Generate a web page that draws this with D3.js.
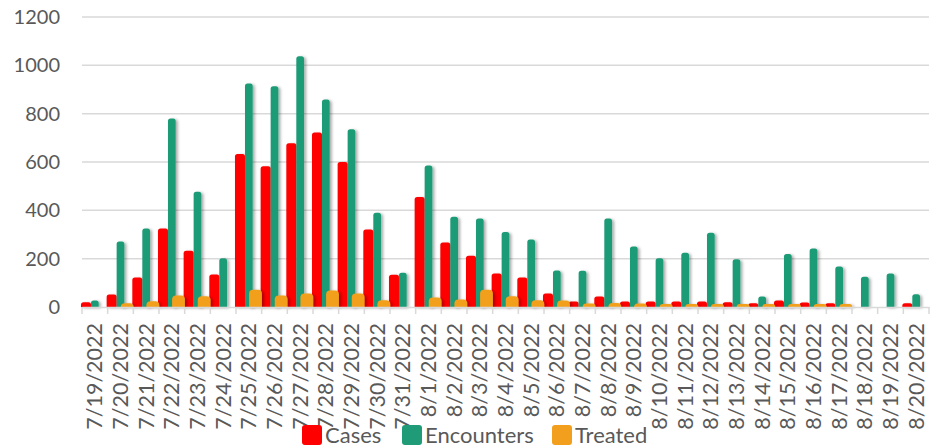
<!DOCTYPE html>
<html>
<head>
<meta charset="utf-8">
<script src="https://cdn.jsdelivr.net/npm/d3@7"></script>
<style>
  body { margin: 0; background: #fff; }
  text { font-family: Lato, "Open Sans", sans-serif; fill: #595959; }
</style>
</head>
<body>
<svg id="chart" width="937" height="448"></svg>
<script>
// categories and series values
const dates = ["7/19/2022", "7/20/2022", "7/21/2022", "7/22/2022", "7/23/2022", "7/24/2022",
  "7/25/2022", "7/26/2022", "7/27/2022", "7/28/2022", "7/29/2022", "7/30/2022", "7/31/2022",
  "8/1/2022", "8/2/2022", "8/3/2022", "8/4/2022", "8/5/2022", "8/6/2022", "8/7/2022",
  "8/8/2022", "8/9/2022", "8/10/2022", "8/11/2022", "8/12/2022", "8/13/2022", "8/14/2022",
  "8/15/2022", "8/16/2022", "8/17/2022", "8/18/2022", "8/19/2022", "8/20/2022"];
const cases = [20, 52, 122, 325, 233, 135, 633, 582, 678, 722, 600, 321, 133,
  455, 267, 212, 139, 122, 56, 23, 43, 23, 23, 23, 23, 20, 16, 27, 19, 16, 0, 0, 16];
const encounters = [27, 271, 325, 780, 477, 202, 925, 913, 1038, 859, 736, 390, 142,
  586, 373, 366, 310, 279, 151, 150, 366, 250, 202, 224, 307, 198, 43, 219, 242, 168, 125, 139, 53];
const treated = [0, 16, 24, 48, 45, 0, 71, 48, 56, 68, 56, 28, 0,
  39, 31, 71, 45, 28, 27, 14, 17, 15, 12, 12, 12, 12, 12, 12, 12, 12, 0, 0, 0];
const yTicks = [0, 200, 400, 600, 800, 1000, 1200];
const seriesNames = ["Cases", "Encounters", "Treated"];
const seriesColors = ["#ff0000", "#1f9b77", "#f29f1d"];

const svg = d3.select("#chart");
const margin = { top: 17, right: 8, bottom: 141, left: 82 };
const width = 937 - margin.left - margin.right;
const height = 448 - margin.top - margin.bottom;

// soft drop shadow like the original
const defs = svg.append("defs");
const f = defs.append("filter").attr("id", "shadow")
  .attr("x", "-50%").attr("y", "-10%").attr("width", "200%").attr("height", "130%");
f.append("feDropShadow").attr("dx", 2).attr("dy", 1).attr("stdDeviation", 1.8)
  .attr("flood-color", "#000").attr("flood-opacity", 0.35);

const g = svg.append("g").attr("transform", "translate(" + margin.left + "," + margin.top + ")");

const x = d3.scaleBand().domain(dates).range([0, width]).padding(0);
const y = d3.scaleLinear().domain([0, 1200]).range([height, 0]);
const bw = x.bandwidth();

// gridlines
g.append("g").selectAll("line")
  .data(yTicks.filter(d => d > 0))
  .join("line")
  .attr("x1", 0).attr("x2", width)
  .attr("y1", d => y(d)).attr("y2", d => y(d))
  .attr("stroke", "#d9d9d9").attr("stroke-width", 1.5);

// y axis labels
const yAxis = g.append("g")
  .call(d3.axisLeft(y).tickValues(yTicks).tickFormat(d3.format("d")).tickSize(0).tickPadding(22));
yAxis.select(".domain").remove();
yAxis.selectAll("text").style("font-size", "20px").attr("fill", "#595959")
  .style("font-family", "Lato, sans-serif");

// bar placement within each date band (fraction of band)
const layout = [
  { off: -0.04, w: 0.39, values: cases },
  { off: 0.35, w: 0.30, values: encounters },
  { off: 0.51, w: 0.50, values: treated }
];

function topRounded(x0, y0, w, h, r) {
  r = Math.min(r, h, w / 2);
  return "M" + x0 + "," + (y0 + h) +
    "V" + (y0 + r) +
    "Q" + x0 + "," + y0 + " " + (x0 + r) + "," + y0 +
    "H" + (x0 + w - r) +
    "Q" + (x0 + w) + "," + y0 + " " + (x0 + w) + "," + (y0 + r) +
    "V" + (y0 + h) + "Z";
}

layout.forEach((s, i) => {
  g.append("g").attr("filter", "url(#shadow)")
    .selectAll("path")
    .data(dates.map((d, j) => ({ date: d, value: s.values[j] })).filter(d => d.value > 0))
    .join("path")
    .attr("fill", seriesColors[i])
    .attr("d", d => {
      const x0 = x(d.date) + bw * s.off;
      const y0 = y(d.value);
      return topRounded(x0, y0, bw * s.w, height - y0, i === 2 ? 4 : 2.5);
    });
});

// x axis
const xAxis = g.append("g").attr("transform", "translate(0," + height + ")")
  .call(d3.axisBottom(x).tickSize(0).tickFormat(""));
xAxis.select(".domain").attr("stroke", "#d9d9d9").attr("stroke-width", 1.5);
g.append("g").selectAll("line")
  .data(dates.concat(["end"]))
  .join("line")
  .attr("x1", (d, i) => i * bw).attr("x2", (d, i) => i * bw)
  .attr("y1", height).attr("y2", height + 7)
  .attr("stroke", "#d9d9d9").attr("stroke-width", 1.5);

g.append("g").selectAll("text")
  .data(dates)
  .join("text")
  .attr("transform", d => "translate(" + (x(d) + bw / 2) + "," + (height + 16) + ") rotate(-90)")
  .attr("text-anchor", "end")
  .attr("dy", "0.35em")
  .style("font-size", "21.5px")
  .text(d => d);

// legend
const legend = svg.append("g");
const legendX = [302, 402, 552];
seriesNames.forEach((name, i) => {
  legend.append("rect")
    .attr("x", legendX[i]).attr("y", 425).attr("width", 20).attr("height", 20)
    .attr("rx", 3).attr("fill", seriesColors[i]);
  legend.append("text")
    .attr("x", legendX[i] + 23).attr("y", 443)
    .style("font-size", "22px")
    .text(name);
});
</script>
</body>
</html>
